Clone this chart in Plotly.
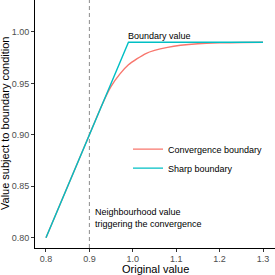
import plotly.graph_objects as go

# Sharp boundary: linear up to boundary value, then flat
sharp_x = [0.80, 0.99, 1.30]
sharp_y = [0.80, 0.99, 0.99]

# Convergence boundary: follows the line, then converges smoothly
conv_x = [0.80, 0.85, 0.90, 0.93, 0.95, 0.97, 0.99, 1.01, 1.03, 1.05, 1.08, 1.11, 1.15, 1.20, 1.25, 1.30]
conv_y = [0.80, 0.85, 0.90, 0.93, 0.947, 0.959, 0.968, 0.974, 0.979, 0.982, 0.985, 0.987, 0.9885, 0.9893, 0.9897, 0.99]

series_names = ["Convergence boundary", "Sharp boundary"]
series_colors = ["#F8766D", "#00BFC4"]

neighbourhood_x = 0.90
boundary_value = 0.99

x_ticks = [0.8, 0.9, 1.0, 1.1, 1.2, 1.3]
y_ticks = [0.80, 0.85, 0.90, 0.95, 1.00]

FONT = "Liberation Sans, Arial, Helvetica, sans-serif"

fig = go.Figure()
fig.add_trace(go.Scatter(x=conv_x, y=conv_y, mode="lines", name=series_names[0],
                         line=dict(color=series_colors[0], width=1.4, shape="spline", smoothing=0.6)))
fig.add_trace(go.Scatter(x=sharp_x, y=sharp_y, mode="lines", name=series_names[1],
                         line=dict(color=series_colors[1], width=1.4)))

fig.add_shape(type="line", xref="x", yref="paper", x0=neighbourhood_x, x1=neighbourhood_x, y0=0, y1=1,
              line=dict(color="#8C8C8C", width=1, dash="4px,3px"), layer="below")

fig.add_annotation(x=1.062, y=0.9965, xref="x", yref="y", text="Boundary value", showarrow=False,
                   font=dict(family=FONT, size=9, color="black"), xanchor="center", yanchor="middle")
fig.add_annotation(x=0.908, y=0.8187, xref="x", yref="y",
                   text="Neighbourhood value<br>triggering the convergence", showarrow=False,
                   font=dict(family=FONT, size=9, color="black"), xanchor="left", yanchor="middle", align="left")

# axis titles as annotations for precise placement
fig.add_annotation(x=0.5, y=-0.083, xref="paper", yref="paper", text="Original value", showarrow=False,
                   font=dict(family=FONT, size=11, color="black"), xanchor="center", yanchor="middle")
fig.add_annotation(x=-0.125, y=0.5, xref="paper", yref="paper", text="Value subject to boundary condition",
                   showarrow=False, textangle=-90,
                   font=dict(family=FONT, size=11, color="black"), xanchor="center", yanchor="middle")

axis_common = dict(showline=True, linecolor="black", linewidth=1, ticks="outside", ticklen=3,
                   tickcolor="#333333", tickwidth=1, showgrid=False, zeroline=False, automargin=False,
                   tickfont=dict(family=FONT, size=9, color="#4D4D4D"), mirror=False)

fig.update_layout(
    width=275, height=275,
    margin=dict(l=35, r=0, t=0, b=27, autoexpand=False),
    paper_bgcolor="white", plot_bgcolor="white",
    font=dict(family=FONT, size=9, color="black"),
    xaxis=dict(range=[0.7747, 1.3276], tickvals=x_ticks, ticktext=["0.8", "0.9", "1.0", "1.1", "1.2", "1.3"],
               ticklabelstandoff=-1, **axis_common),
    yaxis=dict(range=[0.790, 1.031], tickvals=y_ticks, ticktext=["0.80", "0.85", "0.90", "0.95", "1.00"],
               **axis_common),
    legend=dict(x=0.3875, y=0.457, xanchor="left", yanchor="top", bgcolor="rgba(0,0,0,0)",
                font=dict(family=FONT, size=9, color="black"), tracegroupgap=0),
    showlegend=True,
)

fig.write_html("out.html", config={"displayModeBar": False},
               post_script=["document.body.style.margin='0';document.body.style.overflow='hidden';"])
